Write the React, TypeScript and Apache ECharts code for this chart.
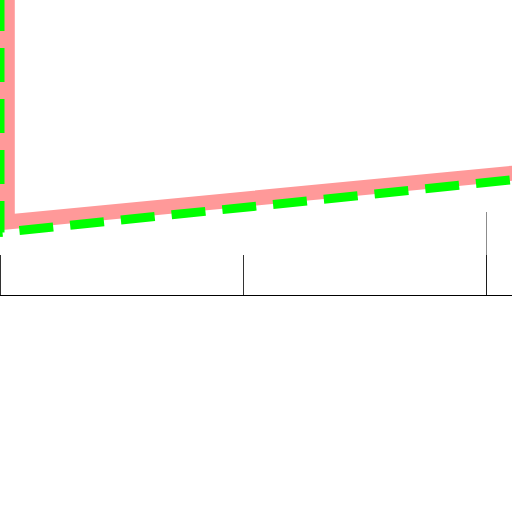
import React, { useEffect, useRef } from "react";
import * as echarts from "echarts";

// x positions and values of the two series
const pinkX = [0.03, 0.03, 2.5];
const pinkY = [40, 7.3, 13.1];
const greenX = [0, 0, 2.5];
const greenY = [40, 6.25, 12.5];
const markX = 2;
const markTop = 8.3;
const xTicks = [0, 1, 2];

export default function App() {
  const ref = useRef<HTMLDivElement>(null);
  useEffect(() => {
    if (!ref.current) return;
    const chart = echarts.init(ref.current, null, { renderer: "svg" });
    chart.setOption({
      animation: false,
      backgroundColor: "#fff",
      grid: { left: 0, top: 0, width: 607.5, height: 295 },
      xAxis: {
        type: "value",
        min: 0,
        max: 2.5,
        interval: xTicks[1] - xTicks[0],
        axisLine: { show: true, lineStyle: { color: "#000", width: 1 } },
        axisTick: { show: true, inside: true, length: 40, lineStyle: { color: "#333", width: 1 } },
        axisLabel: { show: false },
        splitLine: { show: false },
      },
      yAxis: { type: "value", min: 0, max: 29.5, show: false, splitLine: { show: false } },
      series: [
        {
          type: "line",
          data: pinkX.map((x, i) => [x, pinkY[i]]),
          symbol: "none",
          lineStyle: { color: "#ff9999", width: 15, join: "miter" },
          markLine: {
            silent: true,
            symbol: "none",
            label: { show: false },
            lineStyle: { color: "rgba(0,0,0,0.45)", width: 1, type: "solid" },
            data: [[{ coord: [markX, 0] }, { coord: [markX, markTop] }]],
          },
        },
        {
          type: "line",
          data: greenX.map((x, i) => [x, greenY[i]]),
          symbol: "none",
          lineStyle: { color: "#00ff00", width: 9, type: [34, 17] },
        },
      ],
    });
    return () => chart.dispose();
  }, []);
  return (
    <div
      style={{ position: "fixed", left: 0, top: 0, width: 512, height: 512, overflow: "hidden", background: "#fff" }}
    >
      <div ref={ref} style={{ width: 640, height: 512 }} />
    </div>
  );
}
